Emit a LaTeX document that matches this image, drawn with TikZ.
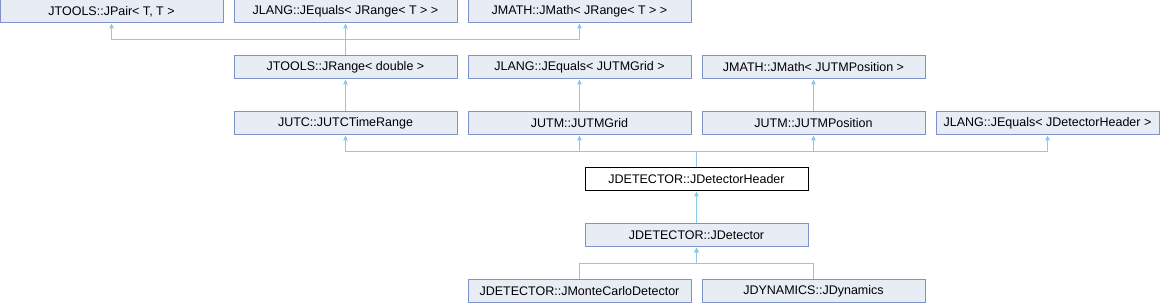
\documentclass[tikz,border=0pt]{standalone}
\usepackage{fontspec}
\setmainfont{Liberation Sans}
\usetikzlibrary{arrows.meta}
\definecolor{boxfill}{HTML}{E8ECF5}
\definecolor{boxline}{HTML}{7F93C8}
\definecolor{linkline}{HTML}{8CC8E8}
\begin{document}
\begin{tikzpicture}[x=1pt,y=-1pt,line width=1pt,
  cls/.style={draw=boxline,fill=boxfill,minimum width=223pt,minimum height=23pt,
    inner sep=0pt,font=\fontsize{12.5}{14}\selectfont},
  this/.style={cls,draw=black,fill=white},
  inh/.style={draw=linkline,{Triangle[length=5pt,width=4.5pt]}-}]
  \useasboundingbox (0,0) rectangle (1160,304);
  % top row
  \node[cls] (pair)  at (111.5,11.5) {JTOOLS::JPair< T, T >};
  \node[cls] (eqrng) at (345.5,11.5) {JLANG::JEquals< JRange< T > >};
  \node[cls] (mthrng) at (579.5,11.5) {JMATH::JMath< JRange< T > >};
  % second row
  \node[cls] (rng)   at (345.5,67.5) {JTOOLS::JRange< double >};
  \node[cls] (eqgrd) at (579.5,67.5) {JLANG::JEquals< JUTMGrid >};
  \node[cls] (mthpos) at (813.5,67.5) {JMATH::JMath< JUTMPosition >};
  % third row
  \node[cls] (utc)   at (345.5,123.5) {JUTC::JUTCTimeRange};
  \node[cls] (grd)   at (579.5,123.5) {JUTM::JUTMGrid};
  \node[cls] (pos)   at (813.5,123.5) {JUTM::JUTMPosition};
  \node[cls] (eqhdr) at (1047.5,123.5) {JLANG::JEquals< JDetectorHeader >};
  % the class itself and below
  \node[this] (hdr)  at (696.5,179.5) {JDETECTOR::JDetectorHeader};
  \node[cls] (det)   at (696.5,235.5) {JDETECTOR::JDetector};
  \node[cls] (mc)    at (579.5,291.5) {JDETECTOR::JMonteCarloDetector};
  \node[cls] (dyn)   at (813.5,291.5) {JDYNAMICS::JDynamics};
  \coordinate (jrng) at (345.5,40);
  \coordinate (jhdr) at (696.5,152);
  \coordinate (jdet) at (696.5,264);
  \draw[inh] (pair.south) |- (jrng) -- (rng.north);
  \draw[inh] (eqrng.south) -- (rng.north);
  \draw[inh] (mthrng.south) |- (jrng);
  \draw[inh] (rng.south) -- (utc.north);
  \draw[inh] (eqgrd.south) -- (grd.north);
  \draw[inh] (mthpos.south) -- (pos.north);
  \draw[inh] (utc.south) |- (jhdr) -- (hdr.north);
  \draw[inh] (grd.south) |- (jhdr);
  \draw[inh] (pos.south) |- (jhdr);
  \draw[inh] (eqhdr.south) |- (jhdr);
  \draw[inh] (hdr.south) -- (det.north);
  \draw[inh] (det.south) -- (jdet) -| (mc.north);
  \draw[inh] (det.south) -- (jdet) -| (dyn.north);
\end{tikzpicture}
\end{document}
